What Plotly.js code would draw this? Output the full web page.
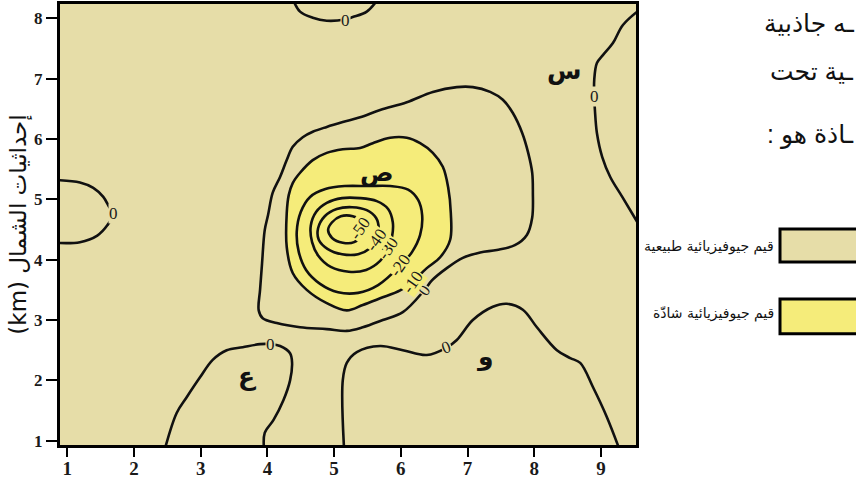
<!DOCTYPE html>
<html><head><meta charset="utf-8">
<script src="https://cdn.plot.ly/plotly-3.0.1.min.js"></script>
<style>html,body{margin:0;padding:0;background:#fff;overflow:hidden}#chart{width:856px;height:480px}</style>
</head><body><div id="chart"></div>
<script>
// ---- tick values ----
const xTicks = [1, 2, 3, 4, 5, 6, 7, 8, 9];
const yTicks = [1, 2, 3, 4, 5, 6, 7, 8];

// ---- contour lines (km coordinates read from the map) ----
// 0 contour, top centre
const c0TopX = [4.38, 4.49, 4.68, 4.89, 5.16, 5.28, 5.49, 5.66];
const c0TopY = [8.32, 8.11, 8.01, 7.96, 7.98, 8.02, 8.11, 8.32];
// 0 contour, right (near س)
const c0RightX = [9.60, 9.33, 9.18, 9.03, 8.94, 8.90, 8.90, 8.91, 8.94, 9.02, 9.14, 9.32, 9.58];
const c0RightY = [8.16, 7.89, 7.59, 7.39, 7.26, 6.98, 6.70, 6.48, 6.10, 5.70, 5.37, 5.04, 4.56];
// 0 contour, left edge
const c0LeftX = [0.80, 1.19, 1.39, 1.54, 1.63, 1.69, 1.60, 1.45, 1.19, 0.80];
const c0LeftY = [5.32, 5.28, 5.19, 5.04, 4.87, 4.76, 4.57, 4.40, 4.29, 4.28];
// 0 contour around ع
const c0AinX = [2.46, 2.64, 2.79, 2.99, 3.18, 3.39, 3.63, 3.89, 4.05, 4.19, 4.34, 4.37, 4.34, 4.24, 4.09, 3.96, 3.95];
const c0AinY = [0.85, 1.46, 1.72, 2.05, 2.34, 2.50, 2.55, 2.60, 2.60, 2.57, 2.45, 2.29, 2.00, 1.67, 1.34, 1.13, 0.85];
// 0 contour around و
const c0WawX = [5.15, 5.13, 5.19, 5.34, 5.69, 6.03, 6.39, 6.68, 6.84, 7.08, 7.38, 7.59, 7.83, 8.04, 8.34, 8.54, 8.69, 8.88, 9.09, 9.28];
const c0WawY = [0.85, 2.00, 2.29, 2.47, 2.57, 2.50, 2.42, 2.54, 2.67, 3.00, 3.22, 3.27, 3.17, 2.88, 2.50, 2.37, 2.29, 1.89, 1.39, 0.85];
// 0 contour around the anomaly
const c0AnomX = [7.98, 7.97, 7.91, 7.82, 7.68, 7.53, 7.34, 7.08, 6.84, 6.48, 6.09, 5.69, 5.39, 5.13, 4.89, 4.68, 4.53, 4.38, 4.29, 4.19, 4.08, 4.01, 3.96, 3.92, 3.89, 3.87, 3.93, 4.14, 4.49, 4.89, 5.19, 5.43, 5.73, 6.03, 6.35, 6.47, 6.69, 6.93, 7.19, 7.44, 7.71, 7.89, 7.97, 7.98];
const c0AnomY = [5.11, 5.44, 5.77, 6.10, 6.43, 6.65, 6.78, 6.86, 6.86, 6.78, 6.61, 6.48, 6.36, 6.28, 6.20, 6.12, 6.03, 5.87, 5.65, 5.37, 5.11, 4.74, 4.49, 3.94, 3.50, 3.16, 3.03, 2.95, 2.88, 2.85, 2.82, 2.88, 3.00, 3.13, 3.49, 3.66, 3.86, 4.03, 4.12, 4.16, 4.24, 4.41, 4.70, 5.11];
// -10 contour (edge of the anomalous zone)
const cM10X = [6.09, 6.29, 6.48, 6.63, 6.71, 6.75, 6.74, 6.59, 6.39, 6.17, 5.99, 5.69, 5.43, 5.19, 4.89, 4.59, 4.38, 4.29, 4.29, 4.32, 4.38, 4.49, 4.68, 4.89, 5.13, 5.39, 5.58, 5.84, 6.09];
const cM10Y = [6.02, 5.93, 5.77, 5.54, 5.20, 4.77, 4.33, 4.04, 3.86, 3.63, 3.49, 3.36, 3.25, 3.16, 3.28, 3.50, 3.78, 4.21, 4.77, 5.07, 5.27, 5.44, 5.65, 5.77, 5.83, 5.85, 5.93, 6.02, 6.02];
// -20 contour
const cM20X = [5.99, 6.17, 6.29, 6.32, 6.26, 6.11, 5.84, 5.51, 5.16, 4.87, 4.64, 4.50, 4.44, 4.47, 4.58, 4.79, 5.06, 5.36, 5.66, 5.99];
const cM20Y = [3.90, 4.13, 4.41, 4.74, 4.99, 5.16, 5.22, 5.22, 5.22, 5.17, 5.04, 4.79, 4.46, 4.13, 3.83, 3.60, 3.46, 3.45, 3.58, 3.90];
// -30 contour
const cM30X = [5.81, 5.87, 5.88, 5.81, 5.64, 5.39, 5.12, 4.89, 4.73, 4.65, 4.67, 4.76, 4.95, 5.22, 5.48, 5.69, 5.81];
const cM30Y = [4.18, 4.39, 4.62, 4.84, 4.97, 5.02, 5.02, 4.94, 4.79, 4.56, 4.29, 4.07, 3.88, 3.80, 3.83, 3.98, 4.18];
// -40 contour
const cM40X = [5.64, 5.67, 5.63, 5.49, 5.27, 5.04, 4.86, 4.76, 4.77, 4.90, 5.12, 5.36, 5.54, 5.64];
const cM40Y = [4.33, 4.51, 4.69, 4.82, 4.87, 4.84, 4.72, 4.52, 4.33, 4.18, 4.09, 4.09, 4.19, 4.33];
// -50 contour
const cM50X = [5.39, 5.40, 5.28, 5.10, 4.97, 4.91, 4.97, 5.13, 5.30, 5.39, 5.39];
const cM50Y = [4.51, 4.64, 4.72, 4.72, 4.62, 4.49, 4.36, 4.28, 4.29, 4.39, 4.51];

// ---- contour labels ----
const lblText  = ['0', '0', '0', '0', '0', '0', '-10', '-20', '-30', '-40', '-50'];
const lblX     = [5.17, 8.90, 1.69, 4.05, 6.68, 6.35, 6.17, 5.99, 5.81, 5.64, 5.39];
const lblY     = [7.97, 6.70, 4.76, 2.60, 2.54, 3.49, 3.63, 3.90, 4.18, 4.33, 4.51];
const lblAngle = [0, 0, 0, 0, -20, -55, -55, -55, -55, -55, -55];
const lblInside = [false, false, false, false, false, false, true, true, true, true, true];

// ---- point letters ----
const ptText = ['س', 'ص', 'ع', 'و'];
const ptX = [8.46, 5.64, 3.69, 7.26];
const ptY = [7.14, 5.45, 2.07, 2.39];

// ---- legend ----
const legendLabels = ['قيم جيوفيزيائية طبيعية', 'قيم جيوفيزيائية شاذّة'];
// ---- text cut by the right edge ----
const sideText = ['ـه جاذبية', 'ـية تحت', ': ـاذة هو'];

const BEIGE = '#e6dda8';
const YELLOW = '#f5ec7a';
const lineStyle = {color: '#111', width: 2.6, shape: 'spline', smoothing: 1};

function lineTrace(x, y, extra) {
  return Object.assign({type: 'scatter', mode: 'lines', x: x, y: y, line: lineStyle, hoverinfo: 'skip'}, extra || {});
}

const traces = [
  lineTrace(cM10X, cM10Y, {fill: 'toself', fillcolor: YELLOW}),
  lineTrace(c0TopX, c0TopY),
  lineTrace(c0RightX, c0RightY),
  lineTrace(c0LeftX, c0LeftY),
  lineTrace(c0AinX, c0AinY),
  lineTrace(c0WawX, c0WawY),
  lineTrace(c0AnomX, c0AnomY),
  lineTrace(cM20X, cM20Y),
  lineTrace(cM30X, cM30Y),
  lineTrace(cM40X, cM40Y),
  lineTrace(cM50X, cM50Y)
];

const annotations = [];
lblText.forEach((t, i) => {
  annotations.push({
    x: lblX[i], y: lblY[i], xref: 'x', yref: 'y', text: t, showarrow: false,
    textangle: lblAngle[i], bgcolor: lblInside[i] ? YELLOW : BEIGE, borderpad: 0,
    font: {family: 'Liberation Serif, serif', size: 17, color: '#1a1a1a'}
  });
});
ptText.forEach((t, i) => {
  annotations.push({
    x: ptX[i], y: ptY[i], xref: 'x', yref: 'y', text: '<b>' + t + '</b>', showarrow: false,
    font: {family: 'DejaVu Sans, sans-serif', size: 25, color: '#111'}
  });
});
const legendY = [0.449, 0.299];
legendLabels.forEach((t, i) => {
  annotations.push({
    x: 1.243, y: legendY[i], xref: 'paper', yref: 'paper', xanchor: 'right', yanchor: 'middle',
    text: t, showarrow: false, font: {family: 'DejaVu Sans, sans-serif', size: 14, color: '#111'}
  });
});
const sideY = [0.956, 0.848, 0.704];
sideText.forEach((t, i) => {
  annotations.push({
    x: 1.382, y: sideY[i], xref: 'paper', yref: 'paper', xanchor: 'right', yanchor: 'middle',
    text: t, showarrow: false, font: {family: 'Liberation Sans, DejaVu Sans, sans-serif', size: 25, color: '#111'}
  });
});

const shapes = [
  {type: 'rect', xref: 'paper', yref: 'paper', x0: 1.25, x1: 1.45, y0: 0.415, y1: 0.490,
   fillcolor: BEIGE, line: {color: '#000', width: 3}},
  {type: 'rect', xref: 'paper', yref: 'paper', x0: 1.25, x1: 1.45, y0: 0.252, y1: 0.331,
   fillcolor: YELLOW, line: {color: '#000', width: 3}}
];

const layout = {
  width: 856, height: 480,
  margin: {l: 60, r: 220, t: 4, b: 35},
  paper_bgcolor: '#ffffff', plot_bgcolor: BEIGE,
  showlegend: false, hovermode: false,
  xaxis: {range: [0.891, 9.526], tickvals: xTicks, ticktext: xTicks.map(String), ticks: 'outside', ticklen: 9,
          ticklabelstandoff: -5,
          tickwidth: 2, tickcolor: '#000', showgrid: false, zeroline: false, showline: true, linewidth: 3,
          linecolor: '#000', mirror: true, fixedrange: true,
          tickfont: {family: 'Liberation Serif, serif', size: 19, weight: 'bold', color: '#1a1a1a'}},
  yaxis: {range: [0.929, 8.237], tickvals: yTicks, ticktext: yTicks.map(String), ticks: 'outside', ticklen: 11,
          tickwidth: 2, tickcolor: '#000', showgrid: false, zeroline: false, showline: true, linewidth: 3,
          linecolor: '#000', mirror: true, fixedrange: true,
          tickfont: {family: 'Liberation Serif, serif', size: 17, weight: 'bold', color: '#1a1a1a'},
          title: {text: '(km) إحداثيات الشمال', font: {family: 'DejaVu Sans, sans-serif', size: 23, color: '#111'}, standoff: 2}},
  annotations: annotations,
  shapes: shapes
};

Plotly.newPlot('chart', traces, layout, {staticPlot: true, displayModeBar: false});
</script>
</body></html>
